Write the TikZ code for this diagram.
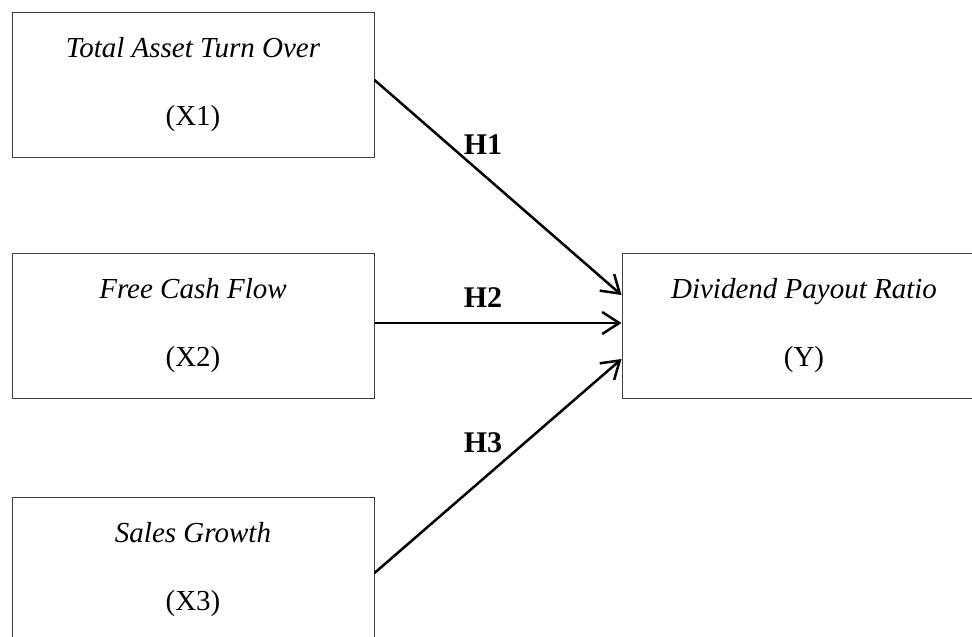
\documentclass[tikz,border=0pt]{standalone}
\usepackage{fontspec}
\setmainfont{Liberation Serif}
\usetikzlibrary{arrows.meta}
\begin{document}
\begin{tikzpicture}[x=1pt,y=-1pt,
  box/.style={draw=black!75, line width=1pt, minimum width=362pt, minimum height=145pt,
    inner sep=0pt, align=center, font=\fontsize{29}{68}\selectfont},
  conn/.style={draw=black, line width=2.5pt, -{Straight Barb[length=17pt,width=22pt,line width=2.5pt]}},
  hlab/.style={font=\fontsize{30}{34}\selectfont\bfseries}]
\useasboundingbox (0,0) rectangle (972,637);
\node[box] (b1) at (193,84.5) {\textit{Total Asset Turn Over}\\(X1)};
\node[box] (b2) at (193,325.5) {\textit{Free Cash Flow}\\(X2)};
\node[box] (b3) at (193,569.5) {\textit{Sales Growth}\\(X3)};
\node[box, minimum width=364pt] (y) at (804,325.5) {\textit{Dividend Payout Ratio}\\(Y)};
\draw[conn] ([yshift=4.5pt]b1.east) -- ([yshift=30.5pt]y.west);
\draw[conn] ([yshift=2.5pt]b2.east) -- ([yshift=2.5pt]y.west);
\draw[conn] ([yshift=-3.5pt]b3.east) -- ([yshift=-33.5pt]y.west);
\node[hlab] (h1) at (483,145) {H1};
\node[hlab] (h2) at (483,298) {H2};
\node[hlab] (h3) at (483,443) {H3};
\end{tikzpicture}
\end{document}
